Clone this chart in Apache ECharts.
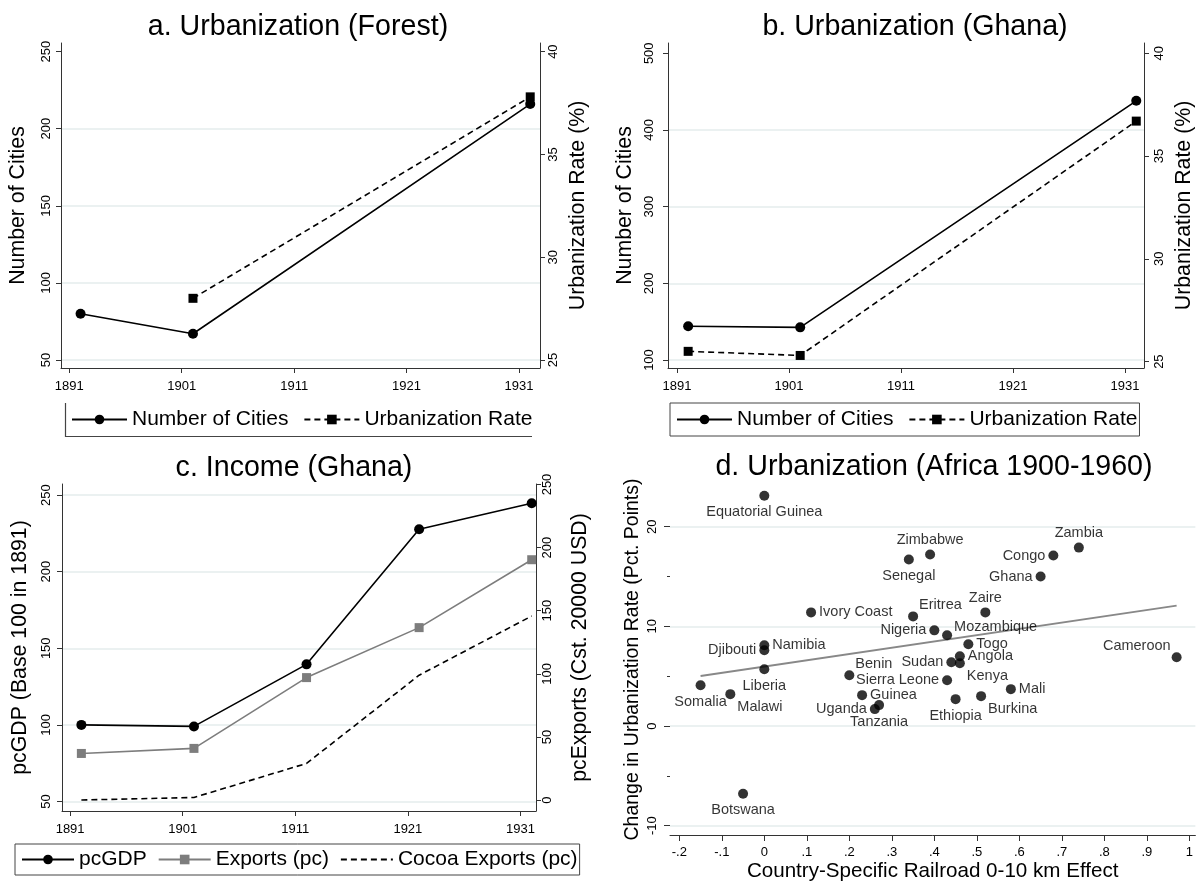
<!DOCTYPE html>
<html><head><meta charset="utf-8">
<script src="https://cdn.jsdelivr.net/npm/echarts@6/dist/echarts.min.js"></script>
<style>html,body{margin:0;padding:0;background:#fff}#c{width:1196px;height:884px}</style>
</head><body><div id="c"></div>
<script>
// ---------------- DATA ----------------
const yearTicks = [1891, 1901, 1911, 1921, 1931];
const yearsAB = [1892, 1902, 1932];
const citiesForest = [80, 67, 216];
const urbRateForest = [null, 28.0, 37.8];
const citiesGhana = [144, 142.6, 438];
const urbRateGhana = [25.5, 25.3, 36.7];
const yearsC = [1892, 1902, 1912, 1922, 1932];
const pcGDP = [100, 99, 139.5, 227.7, 244.6];
const exportsPC = [36.9, 40.9, 97, 136.6, 190.4];
const cocoaPC = [0, 2, 29, 98.9, 145.8];
const ticksA_left = [50, 100, 150, 200, 250];
const gridA = [50, 100, 150, 200];
const ticksAB_right = [25, 30, 35, 40];
const ticksB_left = [100, 200, 300, 400, 500];
const gridB = [100, 200, 300, 400];
const ticksC_left = [50, 100, 150, 200, 250];
const ticksC_right = [0, 50, 100, 150, 200, 250];
const countries = ['Equatorial Guinea','Zimbabwe','Senegal','Zambia','Congo','Ghana','Ivory Coast','Eritrea','Zaire','Nigeria','Mozambique','Togo','Namibia','Djibouti','Liberia','Cameroon','Angola','Sudan','Kenya','Sierra Leone','Benin','Guinea','Uganda','Tanzania','Somalia','Malawi','Mali','Ethiopia','Burkina','Botswana'];
const railEffect = [0.0, 0.39, 0.34, 0.74, 0.68, 0.65, 0.11, 0.35, 0.52, 0.40, 0.43, 0.48, 0.0, 0.0, 0.0, 0.97, 0.46, 0.44, 0.46, 0.43, 0.20, 0.23, 0.26, 0.27, -0.15, -0.08, 0.58, 0.45, 0.51, -0.05];
const urbChange = [23.1, 17.2, 16.7, 17.9, 17.1, 15.0, 11.4, 11.0, 11.4, 9.6, 9.1, 8.2, 8.1, 7.6, 5.7, 6.9, 7.0, 6.4, 6.3, 4.6, 5.1, 3.1, 1.7, 2.1, 4.1, 3.2, 3.7, 2.7, 3.0, -6.8];
const fitX = [-0.15, 0.97];
const fitY = [5.03, 12.08];
const ticksD_x = [-0.2, -0.1, 0, 0.1, 0.2, 0.3, 0.4, 0.5, 0.6, 0.7, 0.8, 0.9, 1];
const ticksD_y = [-10, 0, 10, 20];
const ticksD_yMinor = [-5, 5, 15];

// ---------------- STYLE ----------------
const FONT = '"Liberation Sans", Arial, sans-serif';
const AX = '#333';
const GRIDC = '#e4eced';
const DOT = 10;
// label placement for scatter labels (style only)
const labelSide = {
  'Equatorial Guinea':'bottom', 'Zimbabwe':'top', 'Senegal':'bottom', 'Zambia':'top', 'Congo':'left',
  'Ghana':'left', 'Ivory Coast':'right', 'Eritrea':'ur', 'Zaire':'top', 'Nigeria':'left',
  'Mozambique':'ur2', 'Togo':'right', 'Namibia':'right', 'Djibouti':'left', 'Liberia':'bottom',
  'Cameroon':'ul', 'Angola':'right', 'Sudan':'left', 'Kenya':'lr', 'Sierra Leone':'left',
  'Benin':'ur', 'Guinea':'right', 'Uganda':'left', 'Tanzania':'bottom', 'Somalia':'bottom',
  'Malawi':'lr', 'Mali':'right', 'Ethiopia':'bottom', 'Burkina':'lr', 'Botswana':'bottom'
};
function labelCfg(side){
  const h = DOT/2;
  switch(side){
    case 'top': return {position:'top', distance:2};
    case 'bottom': return {position:'bottom', distance:4};
    case 'left': return {position:'left', distance:3};
    case 'right': return {position:'right', distance:3};
    case 'ur': return {position:[DOT+1, h-11], align:'left', verticalAlign:'middle'};
    case 'ur2': return {position:[DOT+2, h-8], align:'left', verticalAlign:'middle'};
    case 'lr': return {position:[DOT+2, h+12.5], align:'left', verticalAlign:'middle'};
    case 'ul': return {position:[-1, h-11.5], align:'right', verticalAlign:'middle'};
  }
  return {position:'right'};
}

function pairs(xs, ys){ const out=[]; xs.forEach((x,i)=>{ if(ys[i]!=null) out.push([x, ys[i]]); }); return out; }

function xYears(gi, min, max, margin){
  return { type:'value', gridIndex:gi, min:min, max:max,
    axisLine:{show:true, onZero:false, lineStyle:{color:AX, width:1}},
    axisTick:{show:true, customValues:yearTicks, length:5, lineStyle:{color:AX}},
    axisLabel:{customValues:yearTicks, formatter:v=>String(v), fontSize:13, color:'#000', margin:margin, fontFamily:FONT},
    splitLine:{show:false} };
}
function yAx(gi, pos, min, max, ticks, name, nameGap, margin, grid){
  return { type:'value', gridIndex:gi, position:pos, min:min, max:max,
    name:name, nameLocation:'middle', nameGap:nameGap,
    nameTextStyle:{fontSize:21.3, color:'#000', fontFamily:FONT},
    axisLine:{show:true, onZero:false, lineStyle:{color:AX, width:1}},
    axisTick:{show:true, customValues:ticks, length:5, lineStyle:{color:AX}},
    axisLabel:{customValues:ticks, formatter:v=>String(v), rotate:90, fontSize:13, color:'#000', margin:margin, fontFamily:FONT},
    splitLine:{show:!!grid, lineStyle:{color:GRIDC, width:1.5}} };
}
// helper axis that only draws grid lines
function gridAx(gi, min, max, vals){
  return { type:'value', gridIndex:gi, position:'left', min:min, max:max,
    axisLine:{show:false, onZero:false}, axisTick:{show:false, customValues:vals},
    axisLabel:{show:false, customValues:vals},
    splitLine:{show:true, lineStyle:{color:GRIDC, width:1.5}} };
}

const black = '#000', gray = '#7d7d7d';
function lineSeries(name, xi, yi, data, opts){
  return Object.assign({ type:'line', name:name, xAxisIndex:xi, yAxisIndex:yi, data:data,
    symbol:'circle', symbolSize:10, showSymbol:true,
    lineStyle:{color:black, width:1.6}, itemStyle:{color:black}, emphasis:{disabled:true}, animation:false, z:3 }, opts||{});
}

const scatterData = countries.map((c,i)=>({ value:[railEffect[i], urbChange[i]], name:c,
  label:Object.assign({show:true, formatter:c, fontSize:14.5, color:'#000', fontFamily:FONT}, labelCfg(labelSide[c])) }));

const legendBase = { orient:'horizontal', itemWidth:55, itemHeight:12, itemGap:15,
  borderColor:'#444', borderWidth:1, borderRadius:0, padding:[6,2,6,6], backgroundColor:'#fff',
  textStyle:{fontSize:21, color:'#000', fontFamily:FONT}, selectedMode:false, inactiveColor:'#000' };

const option = {
  animation:false,
  backgroundColor:'#fff',
  textStyle:{fontFamily:FONT},
  grid:[
    {left:61, top:43, width:479, height:325},
    {left:668, top:43, width:478, height:325},
    {left:62, top:484, width:474, height:327},
    {left:670, top:484, width:526, height:351}
  ],
  xAxis:[
    xYears(0, 1890.26, 1932.87, 12),
    xYears(1, 1890.2, 1932.69, 12),
    xYears(2, 1890.28, 1932.38, 12),
    { type:'value', gridIndex:3, min:-0.2219, max:1.0141,
      axisLine:{show:true, onZero:false, lineStyle:{color:AX, width:1}},
      axisTick:{show:true, customValues:ticksD_x, length:6, lineStyle:{color:AX}},
      axisLabel:{customValues:ticksD_x, fontSize:13, color:'#000', margin:11, fontFamily:FONT,
        formatter:v=>{ const s = (Math.round(v*10)/10).toString(); return s.replace('0.', '.'); }},
      name:'Country-Specific Railroad 0-10 km Effect', nameLocation:'middle', nameGap:26,
      nameTextStyle:{fontSize:20.6, color:'#000', fontFamily:FONT},
      splitLine:{show:false} }
  ],
  yAxis:[
    yAx(0,'left', 44.8, 255.6, ticksA_left, 'Number of Cities', 32, 8, false),
    yAx(0,'right', 24.61, 40.42, ticksAB_right, 'Urbanization Rate (%)', 28, 7, false),
    yAx(1,'left', 89.6, 513.4, ticksB_left, 'Number of Cities', 32, 12, false),
    yAx(1,'right', 24.69, 40.5, ticksAB_right, 'Urbanization Rate (%)', 30, 9, false),
    yAx(2,'left', 43.8, 257.2, ticksC_left, 'pcGDP (Base 100 in 1891)', 31, 9, true),
    yAx(2,'right', -8.7, 250.4, ticksC_right, 'pcExports (Cst. 20000 USD)', 34, 5, false),
    { type:'value', gridIndex:3, position:'left', min:-10.93, max:24.28,
      name:'Change in Urbanization Rate (Pct. Points)', nameLocation:'middle', nameGap:27,
      nameTextStyle:{fontSize:19.5, color:'#000', fontFamily:FONT},
      axisLine:{show:false, onZero:false},
      axisTick:{show:true, customValues:ticksD_y, length:6, lineStyle:{color:AX}},
      axisLabel:{customValues:ticksD_y, formatter:v=>String(v), rotate:90, fontSize:13, color:'#000', margin:11, fontFamily:FONT},
      splitLine:{show:true, lineStyle:{color:GRIDC, width:1.5}} },
    { type:'value', gridIndex:3, position:'left', min:-10.93, max:24.28,
      axisLine:{show:false, onZero:false},
      axisTick:{show:true, customValues:ticksD_yMinor, length:3, lineStyle:{color:AX}},
      axisLabel:{show:false, customValues:ticksD_yMinor}, splitLine:{show:false} },
    gridAx(0, 44.8, 255.6, gridA),
    gridAx(1, 89.6, 513.4, gridB)
  ],
  legend:[
    Object.assign({}, legendBase, {left:65, top:403, borderWidth:0, backgroundColor:'transparent',
      data:['Number of Cities','Urbanization Rate']}),
    Object.assign({}, legendBase, {left:670, top:403, data:['Number of Cities','Urbanization Rate']}),
    Object.assign({}, legendBase, {left:15, top:844, itemWidth:52, itemGap:11, padding:[5,2,5,6],
      data:['pcGDP','Exports (pc)',{name:'Cocoa Exports (pc)', itemStyle:{opacity:0}}]})
  ],
  graphic:[
    {type:'text', x:298, y:27, style:{text:'a. Urbanization (Forest)', fontSize:28.6, fontFamily:FONT, fill:'#000', align:'center', verticalAlign:'middle'}},
    {type:'text', x:915, y:27, style:{text:'b. Urbanization (Ghana)', fontSize:28.6, fontFamily:FONT, fill:'#000', align:'center', verticalAlign:'middle'}},
    {type:'text', x:294, y:468, style:{text:'c. Income (Ghana)', fontSize:28.6, fontFamily:FONT, fill:'#000', align:'center', verticalAlign:'middle'}},
    {type:'text', x:934, y:467, style:{text:'d. Urbanization (Africa 1900-1960)', fontSize:28.6, fontFamily:FONT, fill:'#000', align:'center', verticalAlign:'middle'}},
    // partial frame of panel a legend (left and bottom edges only, as in the reference)
    {type:'polyline', shape:{points:[[65.5,403],[65.5,436.5],[532,436.5]]}, style:{stroke:'#444', lineWidth:1.2, fill:null}}
  ],
  series:[
    lineSeries('Number of Cities', 0, 0, pairs(yearsAB, citiesForest)),
    lineSeries('Urbanization Rate', 0, 1, pairs(yearsAB, urbRateForest), {symbol:'rect', symbolSize:9, lineStyle:{color:black, width:1.6, type:[6,4]}}),
    lineSeries('Number of Cities', 1, 2, pairs(yearsAB, citiesGhana)),
    lineSeries('Urbanization Rate', 1, 3, pairs(yearsAB, urbRateGhana), {symbol:'rect', symbolSize:9, lineStyle:{color:black, width:1.6, type:[6,4]}}),
    lineSeries('pcGDP', 2, 4, pairs(yearsC, pcGDP)),
    lineSeries('Exports (pc)', 2, 5, pairs(yearsC, exportsPC), {symbol:'rect', symbolSize:9, lineStyle:{color:gray, width:1.6}, itemStyle:{color:gray}}),
    lineSeries('Cocoa Exports (pc)', 2, 5, pairs(yearsC, cocoaPC), {symbol:'none', showSymbol:false, lineStyle:{color:black, width:1.6, type:[6,4]}}),
    { type:'line', name:'fit', xAxisIndex:3, yAxisIndex:6, data:pairs(fitX, fitY), symbol:'none', showSymbol:false,
      lineStyle:{color:'#888', width:2}, emphasis:{disabled:true}, z:1 },
    { type:'scatter', name:'countries', xAxisIndex:3, yAxisIndex:6, data:scatterData, symbol:'circle', symbolSize:DOT,
      itemStyle:{color:'#000'}, emphasis:{disabled:true}, z:3, labelLayout:{hideOverlap:false} }
  ]
};
const chart = echarts.init(document.getElementById('c'), null, {renderer:'canvas'});
chart.setOption(option);
</script></body></html>
